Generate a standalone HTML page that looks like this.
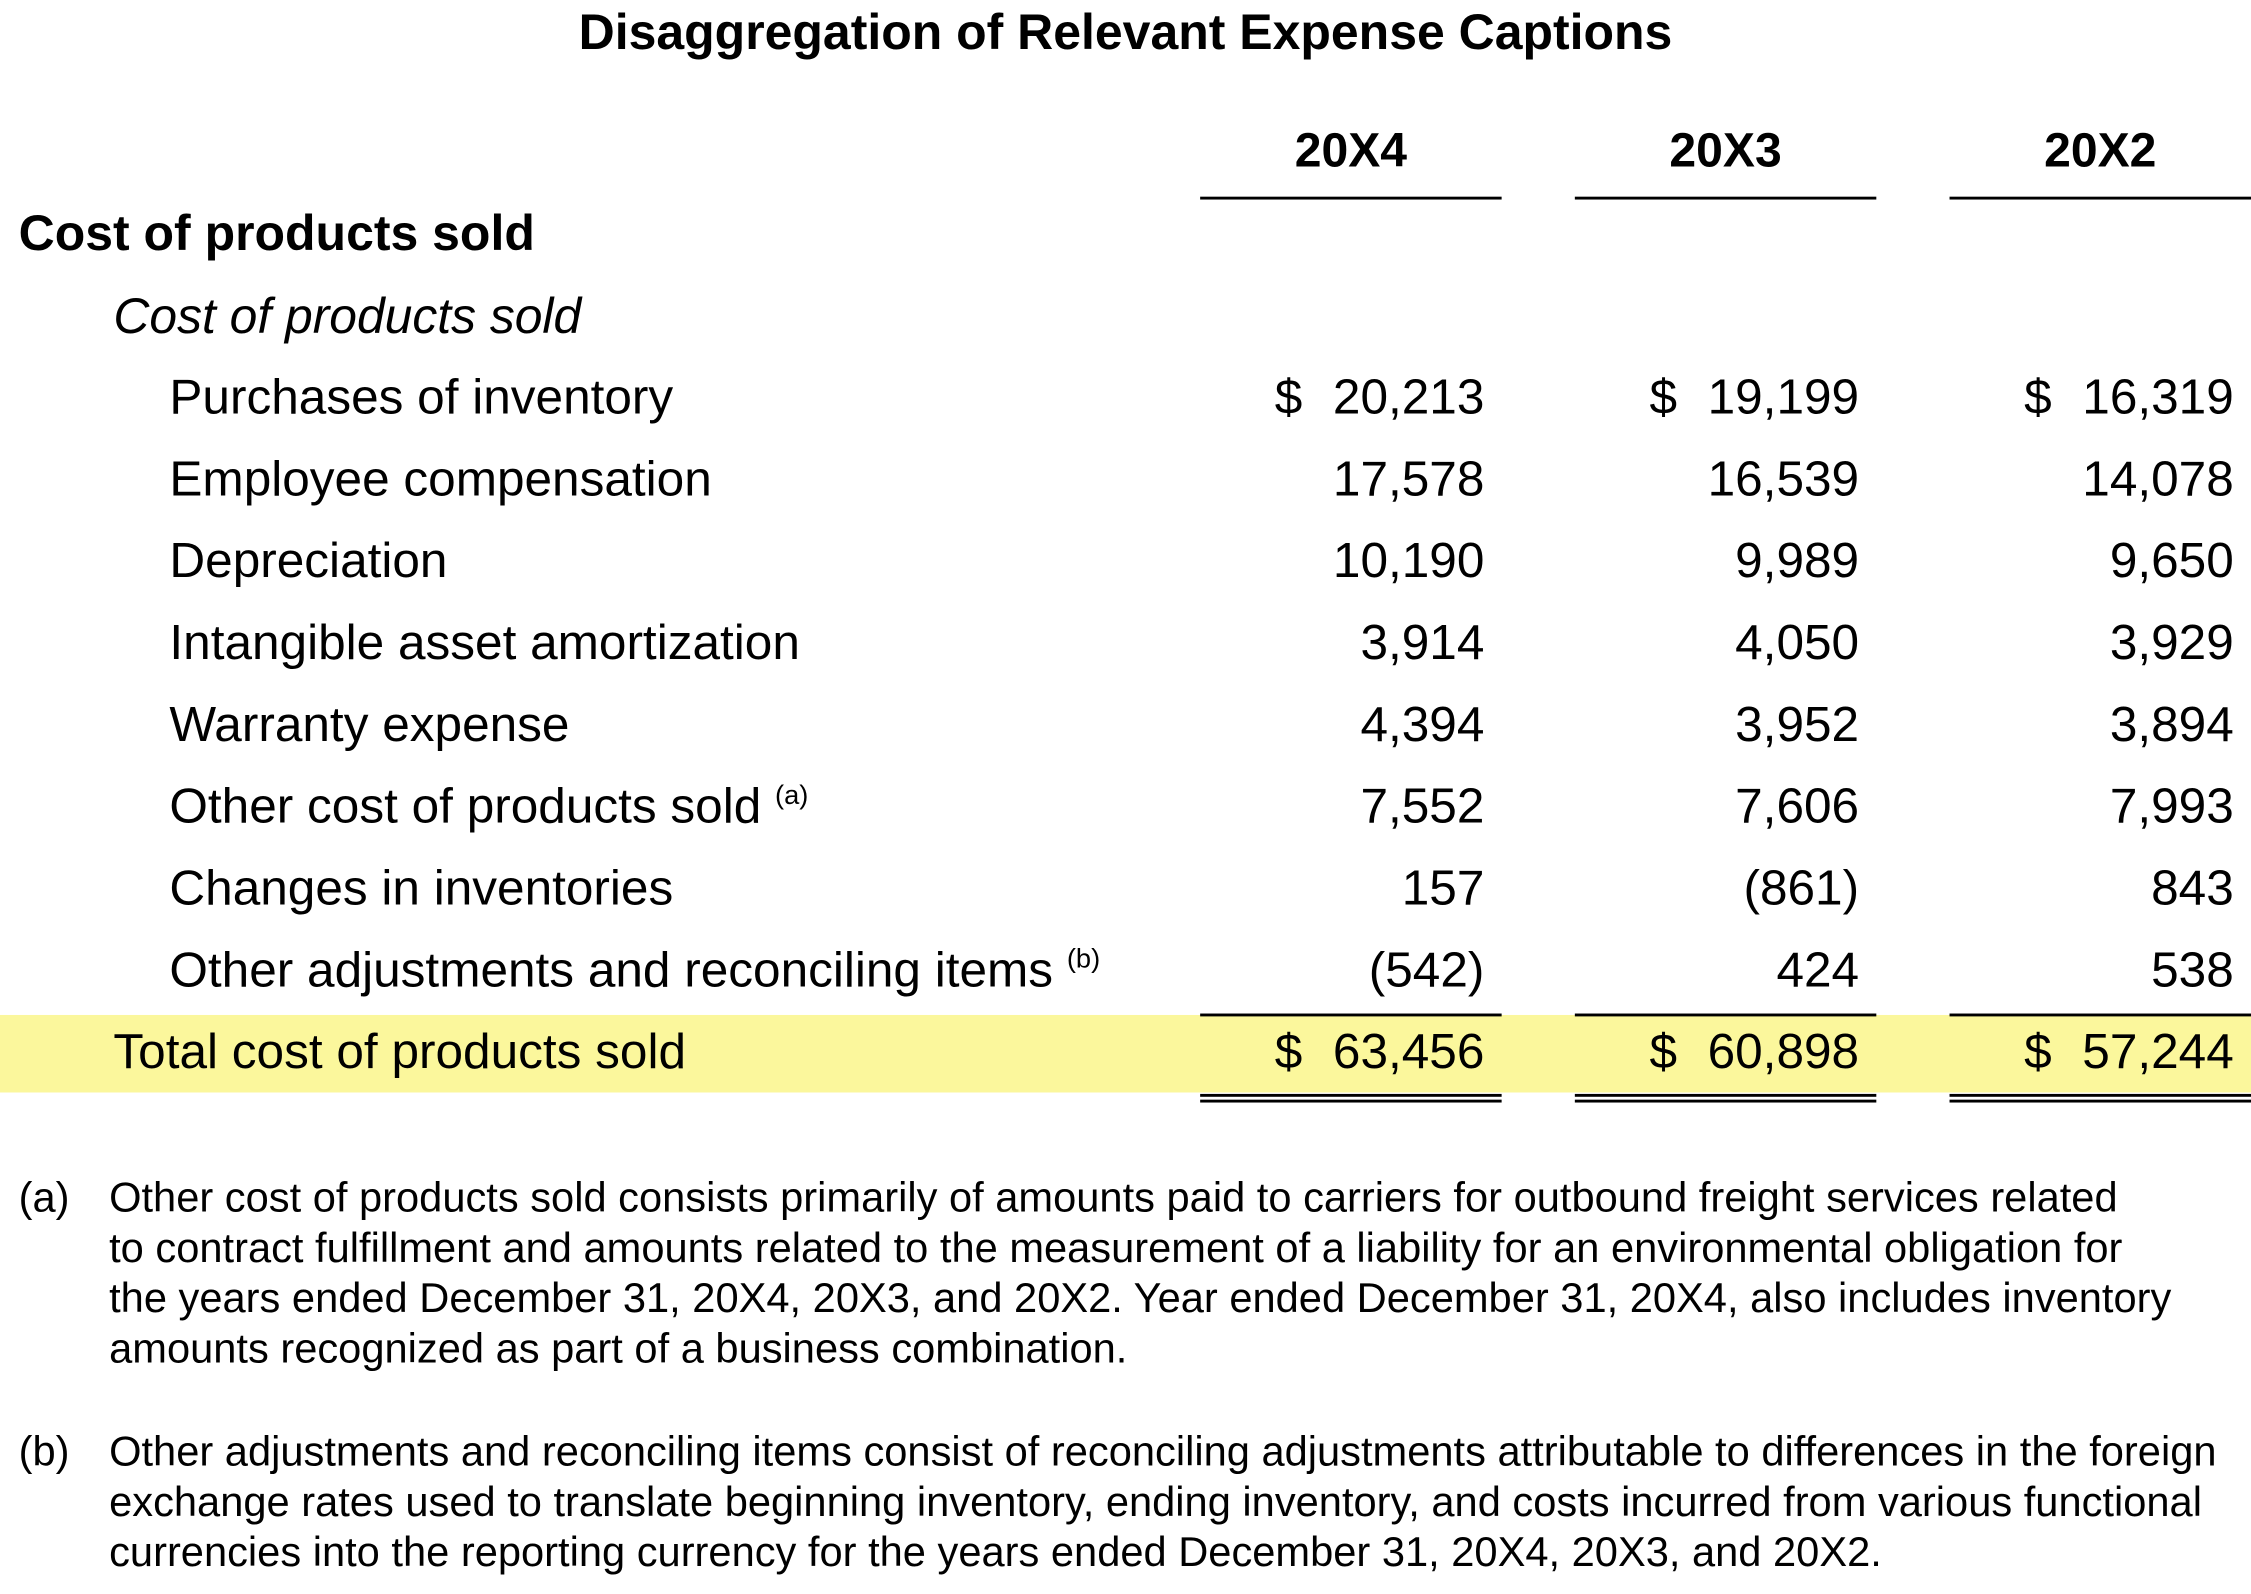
<!DOCTYPE html>
<html><head><meta charset="utf-8"><style>
html,body{margin:0;padding:0;background:#fff;}
#w{width:2251px;height:1594px;overflow:hidden;position:relative;}
#s{position:absolute;left:0;top:0;width:1568px;height:1110px;transform:scale(1.43559);transform-origin:0 0;font-family:"Liberation Sans",Arial,sans-serif;color:#000;}
.t{position:absolute;white-space:nowrap;line-height:1;}
.r{text-align:right;}
.l{position:absolute;background:#000;}
sup{font-size:19px;vertical-align:0;position:relative;top:-13px;}
.v{font-size:34.5px;}
</style></head><body><div id="w"><div id="s">
<div style="position:absolute;left:0;top:707px;width:1568px;height:54px;background:#fbf79c;"></div>

<div class="t" style="left:0;width:1568px;text-align:center;top:6px;font-size:34.8px;font-weight:bold;">Disaggregation of Relevant Expense Captions</div>

<div class="t" style="left:836px;width:210px;text-align:center;top:89px;font-size:33.5px;font-weight:bold;">20X4</div>
<div class="t" style="left:1097px;width:210px;text-align:center;top:89px;font-size:33.5px;font-weight:bold;">20X3</div>
<div class="t" style="left:1358px;width:210px;text-align:center;top:89px;font-size:33.5px;font-weight:bold;">20X2</div>
<div class="l" style="left:836px;top:137px;width:210px;height:2px;"></div>
<div class="l" style="left:1097px;top:137px;width:210px;height:2px;"></div>
<div class="l" style="left:1358px;top:137px;width:210px;height:2px;"></div>

<div class="t" style="left:13px;top:146px;font-size:34.8px;font-weight:bold;">Cost of products sold</div>
<div class="t" style="left:79px;top:204px;font-size:34.7px;font-style:italic;">Cost of products sold</div>

<div class="l" style="left:836px;top:706px;width:210px;height:2px;"></div>
<div class="l" style="left:1097px;top:706px;width:210px;height:2px;"></div>
<div class="l" style="left:1358px;top:706px;width:210px;height:2px;"></div>
<div class="l" style="left:836px;top:762px;width:210px;height:2px;"></div>
<div class="l" style="left:1097px;top:762px;width:210px;height:2px;"></div>
<div class="l" style="left:1358px;top:762px;width:210px;height:2px;"></div>
<div class="l" style="left:836px;top:766px;width:210px;height:2px;"></div>
<div class="l" style="left:1097px;top:766px;width:210px;height:2px;"></div>
<div class="l" style="left:1358px;top:766px;width:210px;height:2px;"></div>

<div class="t v" style="left:118px;top:260px;">Purchases of inventory</div>
<div class="t v" style="left:118px;top:317px;">Employee compensation</div>
<div class="t v" style="left:118px;top:374px;">Depreciation</div>
<div class="t v" style="left:118px;top:431px;">Intangible asset amortization</div>
<div class="t v" style="left:118px;top:488px;">Warranty expense</div>
<div class="t v" style="left:118px;top:545px;">Other cost of products sold <sup>(a)</sup></div>
<div class="t v" style="left:118px;top:602px;">Changes in inventories</div>
<div class="t v" style="left:118px;top:659px;">Other adjustments and reconciling items <sup>(b)</sup></div>
<div class="t v" style="left:79px;top:716px;">Total cost of products sold</div>

<div class="t v" style="left:888px;top:260px;">$</div>
<div class="t v" style="left:1149px;top:260px;">$</div>
<div class="t v" style="left:1410px;top:260px;">$</div>
<div class="t v" style="left:888px;top:716px;">$</div>
<div class="t v" style="left:1149px;top:716px;">$</div>
<div class="t v" style="left:1410px;top:716px;">$</div>

<div class="t r v" style="left:834px;width:200px;top:260px;">20,213</div>
<div class="t r v" style="left:1095px;width:200px;top:260px;">19,199</div>
<div class="t r v" style="left:1356px;width:200px;top:260px;">16,319</div>
<div class="t r v" style="left:834px;width:200px;top:317px;">17,578</div>
<div class="t r v" style="left:1095px;width:200px;top:317px;">16,539</div>
<div class="t r v" style="left:1356px;width:200px;top:317px;">14,078</div>
<div class="t r v" style="left:834px;width:200px;top:374px;">10,190</div>
<div class="t r v" style="left:1095px;width:200px;top:374px;">9,989</div>
<div class="t r v" style="left:1356px;width:200px;top:374px;">9,650</div>
<div class="t r v" style="left:834px;width:200px;top:431px;">3,914</div>
<div class="t r v" style="left:1095px;width:200px;top:431px;">4,050</div>
<div class="t r v" style="left:1356px;width:200px;top:431px;">3,929</div>
<div class="t r v" style="left:834px;width:200px;top:488px;">4,394</div>
<div class="t r v" style="left:1095px;width:200px;top:488px;">3,952</div>
<div class="t r v" style="left:1356px;width:200px;top:488px;">3,894</div>
<div class="t r v" style="left:834px;width:200px;top:545px;">7,552</div>
<div class="t r v" style="left:1095px;width:200px;top:545px;">7,606</div>
<div class="t r v" style="left:1356px;width:200px;top:545px;">7,993</div>
<div class="t r v" style="left:834px;width:200px;top:602px;">157</div>
<div class="t r v" style="left:1095px;width:200px;top:602px;">(861)</div>
<div class="t r v" style="left:1356px;width:200px;top:602px;">843</div>
<div class="t r v" style="left:834px;width:200px;top:659px;">(542)</div>
<div class="t r v" style="left:1095px;width:200px;top:659px;">424</div>
<div class="t r v" style="left:1356px;width:200px;top:659px;">538</div>
<div class="t r v" style="left:834px;width:200px;top:716px;">63,456</div>
<div class="t r v" style="left:1095px;width:200px;top:716px;">60,898</div>
<div class="t r v" style="left:1356px;width:200px;top:716px;">57,244</div>

<div class="t" style="left:13px;top:818px;font-size:29px;line-height:35px;">(a)</div>
<div class="t" style="left:76px;top:818px;font-size:29px;line-height:35px;">Other cost of products sold consists primarily of amounts paid to carriers for outbound freight services related<br>to contract fulfillment and amounts related to the measurement of a liability for an environmental obligation for<br>the years ended December 31, 20X4, 20X3, and 20X2. Year ended December 31, 20X4, also includes inventory<br>amounts recognized as part of a business combination.</div>
<div class="t" style="left:13px;top:995px;font-size:29px;line-height:35px;">(b)</div>
<div class="t" style="left:76px;top:995px;font-size:29px;line-height:35px;">Other adjustments and reconciling items consist of reconciling adjustments attributable to differences in the foreign<br>exchange rates used to translate beginning inventory, ending inventory, and costs incurred from various functional<br>currencies into the reporting currency for the years ended December 31, 20X4, 20X3, and 20X2.</div>
</div></div></body></html>
